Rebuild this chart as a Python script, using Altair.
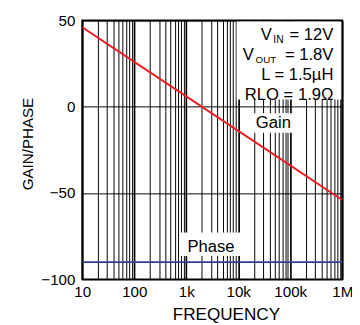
import altair as alt
import pandas as pd

# ---- data ----
freq = [10, 100, 1000, 10000, 100000, 1000000]
gain = [46, 26, 6, -14, -34, -54]
phase = [-90, -90, -90, -90, -90, -90]

x_tick_values = [m * 10 ** k for k in range(1, 6) for m in range(1, 10)] + [1000000]
x_label_values = [10, 100, 1000, 10000, 100000, 1000000]
x_label_texts = ["10", "100", "1k", "10k", "100k", "1M"]
y_tick_values = [-100, -50, 0, 50]

RED = "#e8202a"
BLUE = "#383d92"
FONT = "Liberation Sans, Arial, sans-serif"

rows = []
for f, g, p in zip(freq, gain, phase):
    rows.append({"freq": f, "value": g, "series": "Gain"})
    rows.append({"freq": f, "value": p, "series": "Phase"})
df = pd.DataFrame(rows)

label_expr = " : ".join(
    f"datum.value == {v} ? '{t}'" for v, t in zip(x_label_values, x_label_texts)
) + " : ''"
decade_test = "indexof([" + ",".join(str(v) for v in x_label_values) + "], datum.value) >= 0"

lines = alt.Chart(df).mark_line(strokeWidth=2, clip=True).encode(
    x=alt.X(
        "freq:Q",
        scale=alt.Scale(type="log", domain=[10, 1000000], nice=False),
        axis=alt.Axis(
            values=x_tick_values,
            labelExpr=label_expr,
            ticks=False,
            tickSize=0,
            domain=False,
            labelOverlap=False,
            labelFlush=False,
            labelBaseline="alphabetic",
            labelPadding=18,
            labelFontSize=15.5,
            title="FREQUENCY",
            titleFontSize=17.5,
            titleFontWeight="normal",
            titleX=147,
            titleY=41,
            titleBaseline="alphabetic",
            titleAlign="center",
            gridColor="black",
            gridOpacity=1,
            gridWidth={"condition": {"test": decade_test, "value": 1.7}, "value": 1},
        ),
    ),
    y=alt.Y(
        "value:Q",
        scale=alt.Scale(domain=[-100, 50], nice=False),
        axis=alt.Axis(
            values=y_tick_values,
            ticks=False,
            tickSize=0,
            domain=False,
            labelFlush=False,
            labelPadding=7.5,
            labelFontSize=15.5,
            title="GAIN/PHASE",
            titleFontSize=15.5,
            titleFontWeight="normal",
            titleX=-51,
            titleY=126,
            titleBaseline="alphabetic",
            titleAlign="center",
            gridColor="black",
            gridOpacity=1,
            gridWidth=1,
        ),
    ),
    color=alt.Color(
        "series:N",
        scale=alt.Scale(domain=["Gain", "Phase"], range=[RED, BLUE]),
        legend=None,
    ),
)

dummy = pd.DataFrame({"a": [0]})


def box(x0, x1, y0, y1):
    return alt.Chart(dummy).mark_rect(fill="white", stroke=None).encode(
        x=alt.value(x0), x2=alt.value(x1), y=alt.value(y0), y2=alt.value(y1)
    )


def txt(s, x, y, size=17, align="left"):
    return alt.Chart(dummy).mark_text(
        text=s, fontSize=size, align=align, baseline="alphabetic", font=FONT, color="black"
    ).encode(x=alt.value(x), y=alt.value(y))


boxes = [
    box(158, 265, 1, 81),   # parameter block
    box(173, 218, 95, 115),  # Gain label
    box(100, 162, 217, 241),  # Phase label
]

texts = [
    txt("V", 182.5, 19.7),
    txt("IN", 195.5, 22.7, size=10.5),
    txt("= 12V", 257, 19.7, align="right"),
    txt("V", 164.3, 40.3),
    txt("OUT", 177.3, 43.3, size=10),
    txt("= 1.8V", 257, 40.3, align="right"),
    txt("L = 1.5µH", 257, 61.3, align="right"),
    txt("RLO = 1.9Ω", 257, 81.3, align="right"),
    txt("Gain", 195.5, 110, align="center"),
    txt("Phase", 131.7, 236.5, align="center"),
]

chart = alt.layer(lines, *boxes, *texts).properties(
    width=266,
    height=265,
    autosize=alt.AutoSizeParams(type="none"),
    padding={"left": 76, "top": 9, "right": 10, "bottom": 43},
    background="white",
).configure(font=FONT).configure_view(
    stroke="black", strokeWidth=2
).configure_axis(
    labelColor="black", titleColor="black", labelFont=FONT, titleFont=FONT
)

chart.save("out.html", embed_options={"renderer": "svg", "actions": False})
